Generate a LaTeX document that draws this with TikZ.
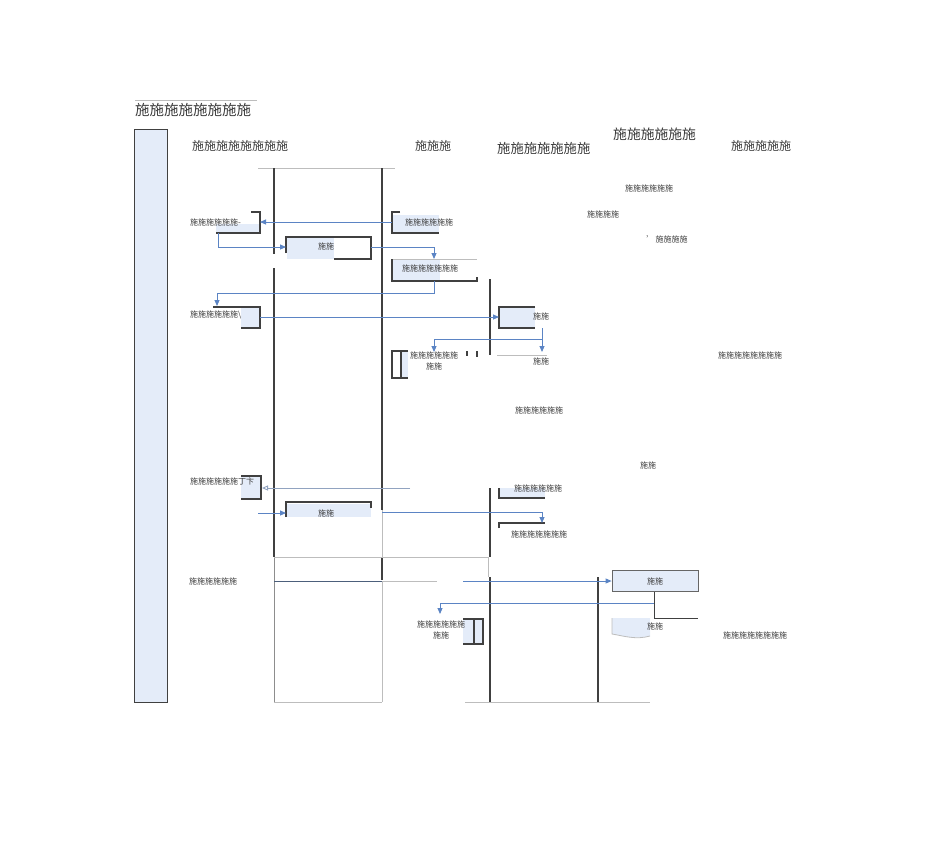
\documentclass[tikz,border=0pt]{standalone}
\usepackage{fontspec}
\setmainfont{Noto Sans CJK SC}
\usetikzlibrary{arrows.meta}

\definecolor{laneblue}{HTML}{E4ECF9}
\definecolor{flowblue}{HTML}{5B84C4}
\definecolor{edgedark}{HTML}{404040}
\definecolor{edgegray}{HTML}{BDBDBD}
\definecolor{inkgray}{HTML}{3A3A3A}

\tikzset{
  lbl/.style={font=\fontsize{8}{11}\selectfont, text=inkgray, inner sep=0pt},
  hdr/.style={font=\fontsize{12}{14}\selectfont, text=inkgray, inner sep=0pt, anchor=west},
  flow/.style={flowblue, line width=0.9pt, -{Triangle[length=6pt,width=5pt]}},
  lane/.style={edgedark, line width=1.3pt},
  faint/.style={edgegray, line width=0.8pt},
  boxedge/.style={edgedark, line width=1.2pt},
}

\begin{document}
\begin{tikzpicture}[x=1pt,y=-1pt]
  \useasboundingbox (0,0) rectangle (950,860);
  % title and the pool band
  \draw[faint] (135,100) -- (257,100);
  \node[hdr, font=\fontsize{14.5}{16}\selectfont] (title) at (135,110) {施施施施施施施施};
  \filldraw[fill=laneblue, draw=edgedark, line width=1pt] (134,129) rectangle (167,702);
  % column headers
  \node[hdr] (hdrA) at (192,146) {施施施施施施施施};
  \node[hdr] (hdrB) at (415,146) {施施施};
  \node[hdr, font=\fontsize{13.3}{15}\selectfont] (hdrC) at (497,148) {施施施施施施施};
  \node[hdr, font=\fontsize{13.8}{15}\selectfont] (hdrD) at (613,134) {施施施施施施};
  \node[hdr] (hdrE) at (731,146) {施施施施施};
  % the lanes
  \draw[faint] (258,168) -- (395,168);
  \draw[lane] (274,168) -- (274,254);
  \draw[lane] (274,268) -- (274,557);
  \draw[edgedark!60, line width=1pt] (274,557) -- (274,702);
  \draw[lane] (382,168) -- (382,510);
  \draw[faint] (382,510) -- (382,557);
  \draw[lane] (382,557) -- (382,580);
  \draw[faint] (382,581) -- (382,702);
  \draw[faint] (274,702) -- (382,702);
  \draw[faint] (274,557) -- (488,557);
  \draw[faint] (488,557) -- (488,577);
  \draw[lane] (490,279) -- (490,355);
  \draw[lane] (490,488) -- (490,557);
  \draw[lane] (490,577) -- (490,702);
  \draw[lane] (598,577) -- (598,702);
  \draw[faint] (465,702) -- (650,702);

  % first row
  \fill[laneblue] (216,224) rectangle (260,233);
  \draw[boxedge] (251,212) -- (260,212) -- (260,233) -- (216,233);
  \node[lbl, anchor=west] (askA) at (190,222) {施施施施施施-};
  \coordinate (askAE) at (260,222);
  \coordinate (askAS) at (218,233);
  \fill[laneblue] (392,215) rectangle (439,233);
  \draw[boxedge] (400,212) -- (392,212) -- (392,233) -- (439,233);
  \node[lbl, anchor=west] (askB) at (405,222) {施施施施施施};
  \coordinate (askBW) at (392,222);
  \fill[laneblue] (287,238) rectangle (334,259);
  \draw[boxedge] (286,253) -- (286,237) -- (371,237) -- (371,259) -- (334,259);
  \node[lbl] (stepC) at (326,246) {施施};
  \coordinate (stepCW) at (286,247);
  \coordinate (stepCE) at (371,247);
  \fill[laneblue] (393,260) rectangle (440,280);
  \draw[faint] (392,259) -- (477,259);
  \draw[boxedge] (392,259) -- (392,281) -- (477,281) -- (477,277);
  \node[lbl, anchor=west] (stepD) at (402,268) {施施施施施施施};
  \coordinate (stepDN) at (434,259);
  \coordinate (stepDS) at (434,281);
  \draw[flow] (askBW) -- (askAE);
  \draw[flow] (askAS) |- (stepCW);
  \draw[flow] (stepCE) -| (stepDN);

  % second row
  \fill[laneblue] (241,308) rectangle (260,327);
  \draw[boxedge] (213,307) -- (260,307) -- (260,328) -- (241,328);
  \node[lbl, anchor=west] (askE) at (190,315) {施施施施施施\textbackslash};
  \coordinate (askEN) at (217,306);
  \coordinate (askEE) at (260,317);
  \draw[flow] (stepDS) -- ++(0,12) -| (askEN);
  \fill[laneblue] (499,307) rectangle (535,328);
  \draw[boxedge] (535,307) -- (499,307) -- (499,328) -- (535,328);
  \node[lbl] (stepF) at (541,316) {施施};
  \coordinate (stepFW) at (499,317);
  \coordinate (stepFS) at (542,328);
  \draw[flow] (askEE) -- (stepFW);
  \fill[laneblue] (401,352) rectangle (408,377);
  \draw[boxedge] (408,351) -- (392,351) -- (392,378) -- (408,378);
  \draw[boxedge] (401,351) -- (401,378);
  \draw[boxedge] (467,351) -- (467,356);
  \draw[boxedge] (477,351) -- (477,357);
  \node[lbl, align=center] (stepG) at (434,361) {施施施施施施\\施施};
  \coordinate (stepGN) at (434,352);
  \draw[faint] (497,355) -- (547,355);
  \node[lbl] (stepH) at (541,361) {施施};
  \coordinate (stepHN) at (542,352);
  \draw[flow] (stepFS) -- (stepHN);
  \draw[flow] (542,339) -| (stepGN);

  % free notes on the right
  \node[lbl] (noteA) at (649,188) {施施施施施施};
  \node[lbl] (noteB) at (603,214) {施施施施};
  \node[lbl] (noteC) at (667,239) {'\,施施施施};
  \node[lbl] (noteD) at (750,355) {施施施施施施施施};
  \node[lbl] (noteE) at (539,410) {施施施施施施};
  \node[lbl] (noteF) at (648,465) {施施};
  \node[lbl] (noteG) at (755,635) {施施施施施施施施};

  % third row
  \fill[laneblue] (241,477) rectangle (261,498);
  \draw[boxedge] (241,476) -- (261,476) -- (261,499) -- (241,499);
  \node[lbl, anchor=west] (askI) at (190,481) {施施施施施施丁卞};
  \coordinate (askIE) at (262,488);
  \coordinate (backI) at (410,488);
  \draw[flowblue!45!edgegray, line width=0.9pt, -{Triangle[open,length=6pt,width=5pt]}] (backI) -- (askIE);
  \fill[laneblue] (287,504) rectangle (371,517);
  \draw[boxedge] (286,517) -- (286,502) -- (371,502) -- (371,508);
  \node[lbl] (stepJ) at (326,513) {施施};
  \coordinate (intoJ) at (258,513);
  \coordinate (stepJW) at (286,513);
  \coordinate (stepJE) at (382,512);
  \draw[flow] (intoJ) -- (stepJW);
  \fill[laneblue] (499,488) rectangle (545,497);
  \draw[boxedge] (499,488) -- (499,498) -- (545,498);
  \node[lbl] (stepK) at (538,488) {施施施施施施};
  \draw[boxedge] (499,528) -- (499,523) -- (545,523);
  \node[lbl] (stepL) at (539,534) {施施施施施施施};
  \coordinate (stepLN) at (542,523);
  \draw[flow] (stepJE) -| (stepLN);

  % last row
  \node[lbl, anchor=west] (askM) at (189,581) {施施施施施施};
  \draw[edgedark!55!flowblue, line width=1pt] (274,581) -- (382,581);
  \draw[faint] (382,581) -- (437,581);
  \node[lbl, draw=edgedark!80, fill=laneblue, line width=0.8pt,
        minimum width=86pt, minimum height=21pt] (stepM) at (655,581) {施施};
  \coordinate (outM) at (463,581);
  \draw[flow] (outM) -- (stepM.west);
  \coordinate (forkM) at (654,603);
  \draw[edgedark, line width=1pt] (stepM.south -| forkM) -- (654,618) -- (698,618);
  \fill[laneblue] (612,618) -- (650,618) -- (650,636)
    .. controls (636,640) and (624,636) .. (612,634) -- cycle;
  \draw[faint] (612,618) -- (612,634) .. controls (624,636) and (636,640) .. (650,636);
  \node[lbl] (stepO) at (655,626) {施施};
  \fill[laneblue] (463,620) rectangle (483,644);
  \draw[boxedge] (463,619) -- (483,619) -- (483,644) -- (463,644);
  \draw[boxedge] (474,619) -- (474,644);
  \node[lbl, align=center] (stepN) at (441,630) {施施施施施施\\施施};
  \coordinate (stepNN) at (440,614);
  \draw[flow] (forkM) -| (stepNN);
\end{tikzpicture}
\end{document}
